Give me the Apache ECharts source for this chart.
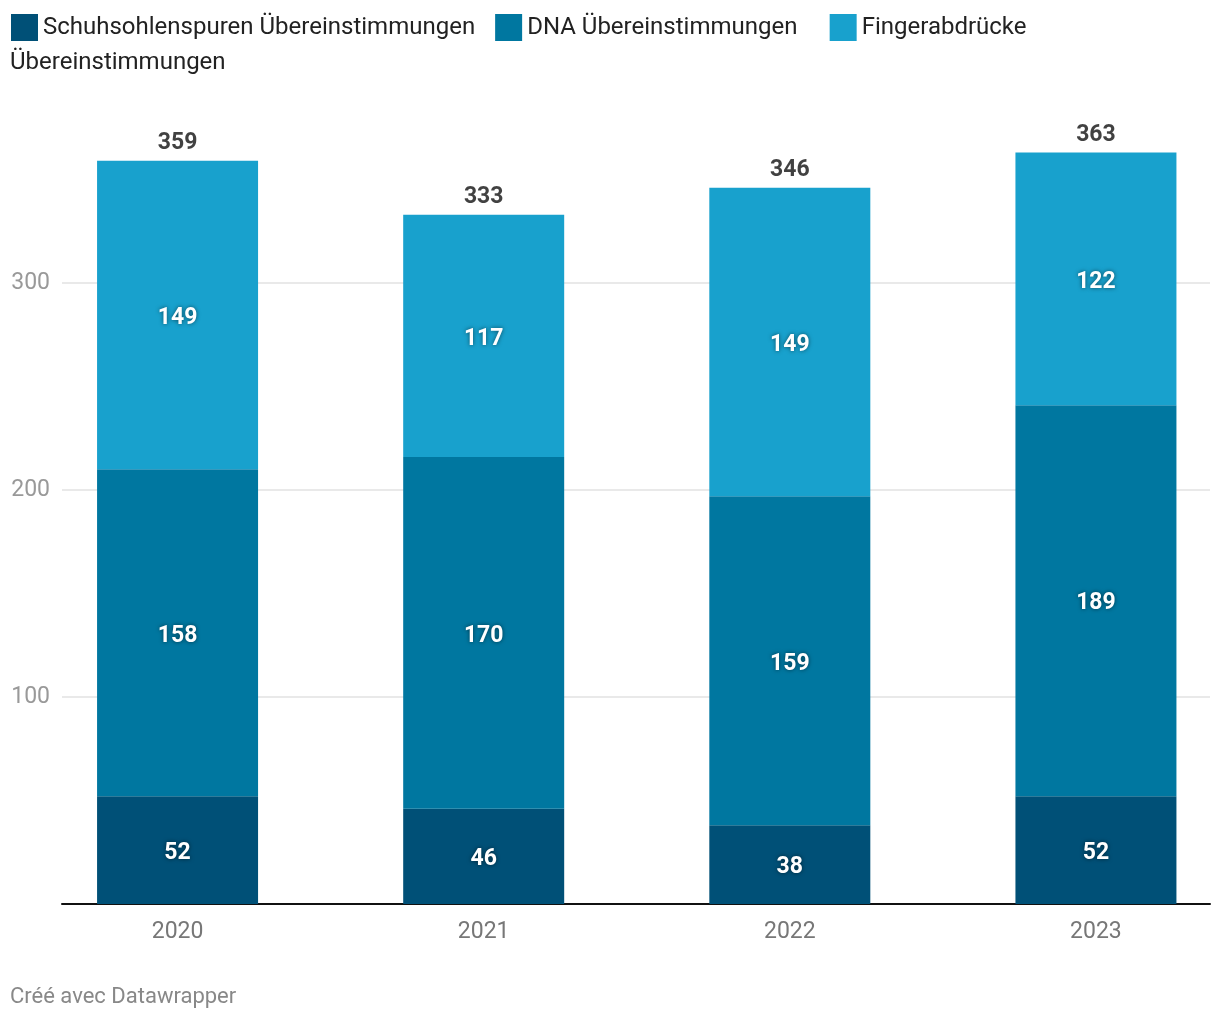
<!DOCTYPE html>
<html>
<head>
<meta charset="utf-8">
<script src="https://cdn.jsdelivr.net/npm/echarts@6/dist/echarts.min.js"></script>
<style>
html,body{margin:0;padding:0;background:#fff;}
#chart{width:1220px;height:1020px;}
</style>
</head>
<body>
<div id="chart"></div>
<script>
const categories = ['2020', '2021', '2022', '2023'];
const seriesNames = ['Schuhsohlenspuren Übereinstimmungen', 'DNA Übereinstimmungen', 'Fingerabdrücke Übereinstimmungen'];
const shoeValues = [52, 46, 38, 52];
const dnaValues = [158, 170, 159, 189];
const fingerValues = [149, 117, 149, 122];
const yTicks = [0, 100, 200, 300, 400];
const colors = ['#005077', '#0077a0', '#18a1cd'];

const totals = categories.map((c, i) => shoeValues[i] + dnaValues[i] + fingerValues[i]);
const FONT = 'Roboto';

const innerLabel = {
  show: true,
  position: 'inside',
  offset: [0, 3],
  color: '#fff',
  fontFamily: FONT,
  fontWeight: 'bold',
  fontSize: 23,
  textShadowColor: 'rgba(0,0,0,0.55)',
  textShadowBlur: 4
};

const chart = echarts.init(document.getElementById('chart'));
chart.setOption({
  animation: false,
  textStyle: { fontFamily: FONT },
  legend: {
    left: 6,
    top: 9,
    itemWidth: 27,
    itemHeight: 27,
    itemGap: 20,
    icon: 'rect',
    data: seriesNames,
    formatter: function (name) {
      if (name === seriesNames[2]) return 'Fingerabdrücke';
      if (name === seriesNames[1]) return name + '\u2002';
      return name;
    },
    textStyle: { fontFamily: FONT, fontSize: 24, color: '#222' }
  },
  title: [
    { text: 'Übereinstimmungen', left: 10, top: 51, padding: 0,
      textStyle: { fontFamily: FONT, fontSize: 24, fontWeight: 'normal', color: '#222' } },
    { text: 'Créé avec Datawrapper', left: 10, top: 986, padding: 0,
      textStyle: { fontFamily: FONT, fontSize: 22, fontWeight: 'normal', color: '#888' } }
  ],
  grid: [
    { left: 62, right: 10, top: 76, height: 828, outerBoundsMode: 'none' },
    { left: 24.5, width: 1224.5, top: 76, height: 828, outerBoundsMode: 'none' }
  ],
  xAxis: [
    { gridIndex: 0, type: 'category', data: categories,
      axisLine: { show: true, lineStyle: { color: '#111', width: 2 } },
      axisTick: { show: false }, axisLabel: { show: false }, splitLine: { show: false } },
    { gridIndex: 1, type: 'category', data: categories,
      axisLine: { show: false }, axisTick: { show: false },
      axisLabel: { show: true, color: '#777', fontFamily: FONT, fontSize: 23, margin: 17 } }
  ],
  yAxis: [
    { gridIndex: 0, type: 'value', min: yTicks[0], max: yTicks[yTicks.length - 1], interval: 100,
      axisLine: { show: false }, axisTick: { show: false },
      axisLabel: {
        show: true, color: '#999', fontFamily: FONT, fontSize: 23, margin: 12,
        formatter: function (v) { return (v === yTicks[0] || v === yTicks[yTicks.length - 1]) ? '' : String(v); }
      },
      splitLine: { show: true, showMinLine: false, showMaxLine: false, lineStyle: { color: '#e2e2e2', width: 1.5 } } },
    { gridIndex: 1, type: 'value', min: yTicks[0], max: yTicks[yTicks.length - 1], interval: 100, show: false,
      splitLine: { show: false } }
  ],
  series: [
    { name: seriesNames[0], type: 'bar', stack: 'total', xAxisIndex: 1, yAxisIndex: 1,
      barWidth: 161, data: shoeValues, itemStyle: { color: colors[0] }, label: innerLabel, z: 3 },
    { name: seriesNames[1], type: 'bar', stack: 'total', xAxisIndex: 1, yAxisIndex: 1,
      barWidth: 161, data: dnaValues, itemStyle: { color: colors[1] }, label: innerLabel, z: 3 },
    { name: seriesNames[2], type: 'bar', stack: 'total', xAxisIndex: 1, yAxisIndex: 1,
      barWidth: 161, data: fingerValues, itemStyle: { color: colors[2] }, label: innerLabel, z: 3 },
    { name: 'Total', type: 'scatter', xAxisIndex: 1, yAxisIndex: 1, data: totals,
      symbolSize: 0, silent: true, z: 4,
      label: { show: true, position: 'top', distance: 6, color: '#111', fontFamily: FONT,
        fontWeight: 'bold', fontSize: 23 } }
  ]
});
</script>
</body>
</html>
